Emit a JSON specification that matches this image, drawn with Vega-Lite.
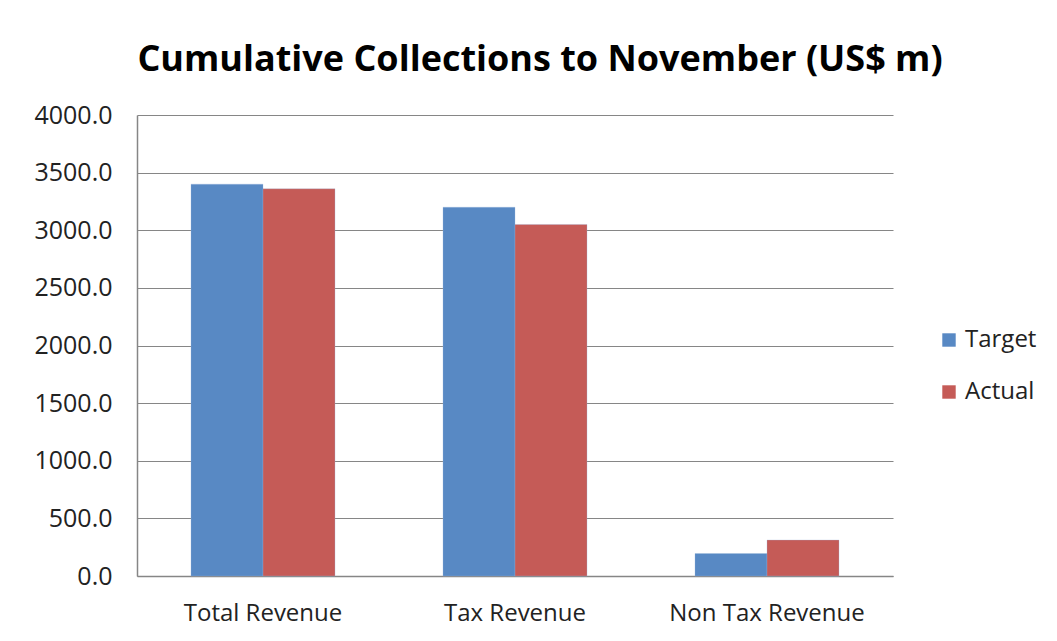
{
  "$schema": "https://vega.github.io/schema/vega-lite/v6.json",
  "width": 756,
  "height": 461,
  "autosize": {"type": "none"},
  "padding": {"left": 137, "top": 115, "right": 164, "bottom": 65},
  "background": "white",
  "title": {
    "text": "Cumulative Collections to  November (US$ m)",
    "font": "Open Sans",
    "fontWeight": "bold",
    "fontSize": 36,
    "color": "#000000",
    "anchor": "middle",
    "dx": 25,
    "offset": 24
  },
  "data": {
    "values": [
      {"category": "Total Revenue", "series": "Target", "value": 3400},
      {"category": "Total Revenue", "series": "Actual", "value": 3360},
      {"category": "Tax Revenue", "series": "Target", "value": 3200},
      {"category": "Tax Revenue", "series": "Actual", "value": 3050},
      {"category": "Non Tax Revenue", "series": "Target", "value": 195},
      {"category": "Non Tax Revenue", "series": "Actual", "value": 312}
    ]
  },
  "mark": {"type": "bar", "stroke": "#9fb8dc", "strokeWidth": 0.5, "strokeOpacity": 0.6},
  "encoding": {
    "x": {
      "field": "category",
      "type": "nominal",
      "sort": ["Total Revenue", "Tax Revenue", "Non Tax Revenue"],
      "scale": {"paddingInner": 0.4286, "paddingOuter": 0.2143},
      "axis": {
        "title": null,
        "labelAngle": 0,
        "labelFont": "Open Sans",
        "labelFontSize": 24,
        "labelLimit": 0,
        "labelColor": "#222222",
        "labelPadding": 25,
        "ticks": false,
        "domainColor": "#868686",
        "domainWidth": 1.5,
        "grid": false
      }
    },
    "xOffset": {"field": "series", "sort": ["Target", "Actual"]},
    "y": {
      "field": "value",
      "type": "quantitative",
      "scale": {"domain": [0, 4000], "nice": false},
      "axis": {
        "title": null,
        "values": [0, 500, 1000, 1500, 2000, 2500, 3000, 3500, 4000],
        "format": ".1f",
        "labelFont": "Open Sans",
        "labelFontSize": 25,
        "labelColor": "#222222",
        "labelPadding": 25,
        "ticks": false,
        "domainColor": "#868686",
        "domainWidth": 1.5,
        "gridColor": "#868686",
        "gridWidth": 1.2
      }
    },
    "color": {
      "field": "series",
      "type": "nominal",
      "sort": ["Target", "Actual"],
      "scale": {"domain": ["Target", "Actual"], "range": ["#5889C4", "#C55B57"]},
      "legend": {
        "title": null,
        "orient": "none",
        "legendX": 800,
        "legendY": 213,
        "symbolType": "square",
        "symbolSize": 180,
        "symbolStrokeWidth": 0,
        "labelFont": "Open Sans",
        "labelFontSize": 24,
        "labelColor": "#222222",
        "rowPadding": 28,
        "labelOffset": 4,
        "padding": 0
      }
    }
  },
  "config": {
    "view": {"stroke": null}
  }
}
